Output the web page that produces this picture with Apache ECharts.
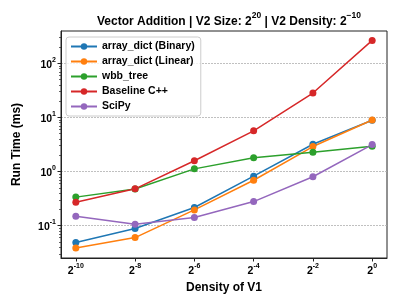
<!DOCTYPE html>
<html><head><meta charset="utf-8">
<script src="https://cdn.jsdelivr.net/npm/echarts@6/dist/echarts.min.js"></script>
<style>html,body{margin:0;padding:0;background:#fff}#c{width:407px;height:305px}</style>
</head><body><div id="c"></div>
<script>
// Density exponents (log2) of V1
var densityExp = [-10, -8, -6, -4, -2, 0];
var seriesNames = ['array_dict (Binary)', 'array_dict (Linear)', 'wbb_tree', 'Baseline C++', 'SciPy'];
var binary   = [0.0485, 0.088, 0.216, 0.82, 3.2, 8.9];
var linear   = [0.0386, 0.060, 0.195, 0.69, 2.9, 9.0];
var wbb      = [0.336, 0.475, 1.12, 1.79, 2.28, 2.95];
var baseline = [0.271, 0.478, 1.58, 5.67, 28.3, 267];
var scipy    = [0.149, 0.106, 0.141, 0.278, 0.80, 3.15];
var yMajor = [0.1, 1, 10, 100];

var colors = ['#1f77b4', '#ff7f0e', '#2ca02c', '#d62728', '#9467bd'];
var allData = [binary, linear, wbb, baseline, scipy];
var yMinor = [];
[0.01, 0.1, 1, 10, 100].forEach(function (d) { for (var k = 2; k <= 9; k++) yMinor.push(d * k); });

var font = 'Liberation Sans, Arial, sans-serif';
var chart = echarts.init(document.getElementById('c'), null, {renderer: 'canvas'});
var series = seriesNames.map(function (n, i) {
  return {
    name: n, type: 'line', xAxisIndex: 0, yAxisIndex: 0,
    data: densityExp.map(function (e, j) { return [e, allData[i][j]]; }),
    symbol: 'circle', symbolSize: 7, lineStyle: {width: 1.5, color: colors[i]},
    itemStyle: {color: colors[i]}, animation: false
  };
});
chart.setOption({
  animation: false,
  title: {
    text: '{b|Vector Addition | V2 Size: }{n|2}{s|20}{b| | V2 Density: }{n|2}{s|−10}',
    left: 224, textAlign: 'center', top: 6,
    textStyle: {
      rich: {
        b: {fontFamily: font, fontWeight: 'bold', fontSize: 12, color: '#000', lineHeight: 17, verticalAlign: 'bottom'},
        n: {fontFamily: font, fontSize: 12, color: '#000', lineHeight: 17, verticalAlign: 'bottom'},
        s: {fontFamily: font, fontSize: 8.5, color: '#000', lineHeight: 15, verticalAlign: 'top'}
      }
    }
  },
  legend: {
    orient: 'vertical', left: 66, top: 37, itemWidth: 26, itemHeight: 8, itemGap: 4,
    padding: [4, 6, 4, 4], borderColor: '#cccccc', borderWidth: 1, borderRadius: 3,
    backgroundColor: 'rgba(255,255,255,0.8)',
    textStyle: {fontFamily: font, fontWeight: 'bold', fontSize: 10.5, color: '#000'},
    data: seriesNames
  },
  grid: {left: 61, right: 20, top: 31, bottom: 47, show: true, borderColor: '#222', borderWidth: 1},
  xAxis: [{
    type: 'value', min: -10.5, max: 0.5,
    name: 'Density of V1', nameLocation: 'middle', nameGap: 24,
    nameTextStyle: {fontFamily: font, fontWeight: 'bold', fontSize: 12, color: '#000'},
    axisLine: {onZero: false, lineStyle: {color: '#222'}},
    axisTick: {show: true, length: 3.5, customValues: densityExp, lineStyle: {color: '#222'}},
    splitLine: {show: false},
    axisLabel: {
      customValues: densityExp, margin: 5,
      formatter: function (v) { return '{n|2}{s|' + (v < 0 ? '-' + (-v) : v) + '}'; },
      rich: {
        n: {fontFamily: font, fontWeight: 'bold', fontSize: 10.5, color: '#000', lineHeight: 14, verticalAlign: 'bottom'},
        s: {fontFamily: font, fontWeight: 'bold', fontSize: 7, color: '#000', lineHeight: 14, verticalAlign: 'top'}
      }
    }
  }],
  yAxis: [{
    type: 'log', logBase: 10, min: Math.pow(10, -1.6), max: Math.pow(10, 2.6),
    name: 'Run Time (ms)', nameLocation: 'middle', nameGap: 38,
    nameTextStyle: {fontFamily: font, fontWeight: 'bold', fontSize: 12, color: '#000'},
    axisLine: {show: true, onZero: false, lineStyle: {color: '#222'}},
    axisTick: {show: true, length: 3.5, customValues: yMajor, lineStyle: {color: '#222'}},
    splitLine: {show: true, lineStyle: {color: '#b0b0b0', type: [2, 1], width: 0.8}},
    axisLabel: {
      customValues: yMajor, margin: 5,
      formatter: function (v) {
        var k = Math.round(Math.log10(v));
        return '{n|10}{s|' + (k < 0 ? '-' + (-k) : k) + '}';
      },
      rich: {
        n: {fontFamily: font, fontWeight: 'bold', fontSize: 10.5, color: '#000', lineHeight: 14, verticalAlign: 'bottom'},
        s: {fontFamily: font, fontWeight: 'bold', fontSize: 7, color: '#000', lineHeight: 14, verticalAlign: 'top'}
      }
    }
  }, {
    type: 'log', logBase: 10, min: Math.pow(10, -1.6), max: Math.pow(10, 2.6), position: 'left',
    axisLine: {show: false, onZero: false}, splitLine: {show: false}, axisLabel: {show: false},
    axisTick: {show: true, length: 2, customValues: yMinor, lineStyle: {color: '#222', width: 0.7}}
  }],
  series: series
});
</script></body></html>
